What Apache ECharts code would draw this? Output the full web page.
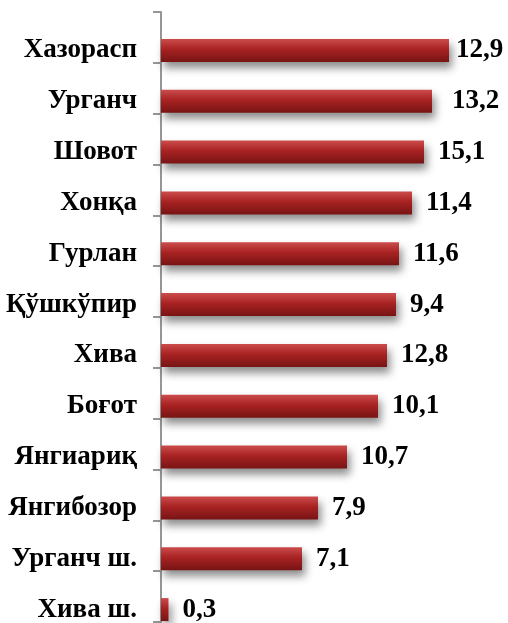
<!DOCTYPE html>
<html>
<head>
<meta charset="utf-8">
<script src="https://cdn.jsdelivr.net/npm/echarts@6/dist/echarts.min.js"></script>
<style>
  html, body { margin: 0; padding: 0; background: #fff; }
  #chart { width: 508px; height: 623px; }
</style>
</head>
<body>
<div id="chart"></div>
<script>
// туманлар (юқоридан пастга)
const districts = ['Хазорасп', 'Урганч', 'Шовот', 'Хонқа', 'Гурлан', 'Қўшкўпир', 'Хива', 'Боғот', 'Янгиариқ', 'Янгибозор', 'Урганч ш.', 'Хива ш.']
// устун узунликлари (расмдан тахминан)
const barValues = [28.8, 27.1, 26.3, 25.1, 23.8, 23.5, 22.6, 21.7, 18.6, 15.7, 14.1, 0.75]
// устун ёнидаги ёзувлар
const labelTexts = ['12,9', '13,2', '15,1', '11,4', '11,6', '9,4', '12,8', '10,1', '10,7', '7,9', '7,1', '0,3']

const myChart = echarts.init(document.querySelector('#chart'))

const fontFamily = '"Liberation Serif", "Times New Roman", serif'

const barData = barValues.map((v, i) => {
    // биринчи ёзув сурат четига сиғиши учун яқинроқ
    if (i === 0) return { value: v, label: { distance: 7 } }
    if (i === 1) return { value: v, label: { distance: 20 } }
    return v
})

const option = {
    animation: false,
    grid: [
        // ўқ чизиғи ва белгилар учун
        { left: 161, top: 12, width: 300, height: 610, outerBoundsMode: 'none' },
        // устунлар учун (пастга сурилган)
        { left: 161, top: 25, width: 300, height: 610, outerBoundsMode: 'none' }
    ],
    xAxis: [
        { gridIndex: 0, type: 'value', min: 0, max: 30, show: false },
        { gridIndex: 1, type: 'value', min: 0, max: 30, show: false }
    ],
    yAxis: [
        {
            gridIndex: 0,
            type: 'category',
            inverse: true,
            data: districts,
            axisLine: { show: true, lineStyle: { color: '#969696', width: 2 } },
            axisTick: { show: true, length: 8, lineStyle: { color: '#969696', width: 2 } },
            axisLabel: { show: false },
            splitLine: { show: false }
        },
        {
            gridIndex: 1,
            type: 'category',
            inverse: true,
            data: districts,
            axisLine: { show: false },
            axisTick: { show: false },
            axisLabel: {
                margin: 24,
                color: '#000',
                fontSize: 27,
                fontWeight: 'bold',
                fontFamily: fontFamily
            },
            splitLine: { show: false }
        }
    ],
    series: [
        {
            type: 'bar',
            xAxisIndex: 1,
            yAxisIndex: 1,
            barWidth: 23,
            data: barData,
            itemStyle: {
                color: new echarts.graphic.LinearGradient(0, 0, 0, 1, [
                    { offset: 0, color: '#cc4c4c' },
                    { offset: 0.45, color: '#a82222' },
                    { offset: 1, color: '#781414' }
                ]),
                shadowColor: 'rgba(0,0,0,0.45)',
                shadowBlur: 8,
                shadowOffsetX: 3,
                shadowOffsetY: 6
            },
            label: {
                show: true,
                position: 'right',
                distance: 14,
                color: '#000',
                fontSize: 27,
                fontWeight: 'bold',
                fontFamily: fontFamily,
                formatter: p => labelTexts[p.dataIndex]
            }
        }
    ]
}

myChart.setOption(option)
</script>
</body>
</html>
